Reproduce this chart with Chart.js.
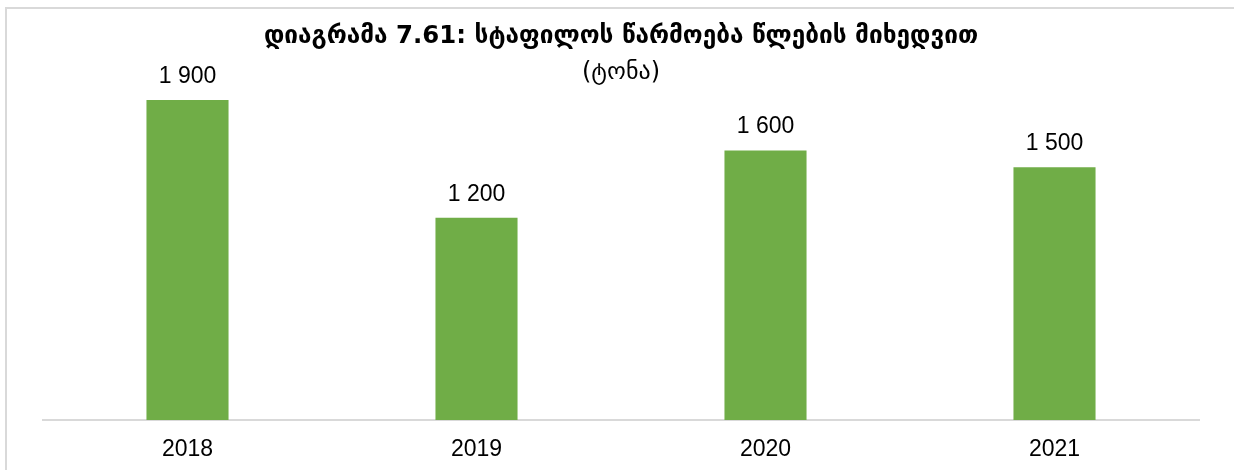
<!DOCTYPE html>
<html lang="ka">
<head>
<meta charset="utf-8">
<title>სტაფილოს წარმოება</title>
<script src="https://cdn.jsdelivr.net/npm/chart.js@4.4.1/dist/chart.umd.min.js"></script>
<style>
  html, body { margin: 0; padding: 0; background: #fff; overflow: hidden; }
  .wrap { position: relative; width: 1234px; height: 470px; }
  .frame {
    position: absolute; left: 5px; top: 7px; width: 1300px; height: 520px;
    border: 2px solid #d9d9d9; box-sizing: border-box;
  }
  canvas { position: absolute; left: 0; top: 0; }
</style>
</head>
<body>
<div class="wrap">
  <div class="frame"></div>
  <canvas id="carrotChart" width="1234" height="470"></canvas>
</div>
<script>
// Carrot production by year, tonnes
const years = ['2018', '2019', '2020', '2021'];
const production = [1900, 1200, 1600, 1500];

const titleText = 'დიაგრამა 7.61: სტაფილოს წარმოება წლების მიხედვით';
const subtitleText = '(ტონა)';

// "1900" -> "1 900"
function formatValue(v) {
  return String(v).replace(/\B(?=(\d{3})+(?!\d))/g, ' ');
}

// writes the value above each bar
const barValues = {
  id: 'barValues',
  afterDatasetsDraw(chart) {
    const ctx = chart.ctx;
    const meta = chart.getDatasetMeta(0);
    ctx.save();
    ctx.font = '23px "Liberation Sans", Arial, sans-serif';
    ctx.fillStyle = '#000';
    ctx.textAlign = 'center';
    ctx.textBaseline = 'alphabetic';
    meta.data.forEach((bar, i) => {
      ctx.fillText(formatValue(chart.data.datasets[0].data[i]), bar.x, bar.y - 17);
    });
    ctx.restore();
  }
};

const ctx = document.getElementById('carrotChart').getContext('2d');
new Chart(ctx, {
  type: 'bar',
  data: {
    labels: years,
    datasets: [{
      data: production,
      backgroundColor: '#70ad47',
      borderWidth: 0,
      categoryPercentage: 1,
      barPercentage: 0.284
    }]
  },
  options: {
    responsive: false,
    animation: false,
    layout: { padding: { top: 0, left: 43, right: 35, bottom: 0 } },
    plugins: {
      legend: { display: false },
      tooltip: { enabled: false },
      title: {
        display: true,
        text: titleText,
        color: '#000',
        font: { family: '"DejaVu Sans", sans-serif', size: 24.4, weight: 'bold', lineHeight: 1.2 },
        padding: { top: 22.4, bottom: 0 }
      },
      subtitle: {
        display: true,
        text: subtitleText,
        color: '#000',
        font: { family: '"DejaVu Sans", sans-serif', size: 24, weight: 'normal', lineHeight: 1 },
        padding: { top: 8.6, bottom: -1.2 }
      }
    },
    scales: {
      x: {
        grid: { display: false, drawTicks: false },
        border: { display: true, color: '#d9d9d9', width: 2 },
        ticks: {
          color: '#000',
          padding: 16,
          font: { family: '"Liberation Sans", Arial, sans-serif', size: 23 }
        },
        afterFit(scale) {
          scale.height = 50;
        }
      },
      y: {
        display: false,
        min: 0,
        max: 2000
      }
    }
  },
  plugins: [barValues]
});
</script>
</body>
</html>
